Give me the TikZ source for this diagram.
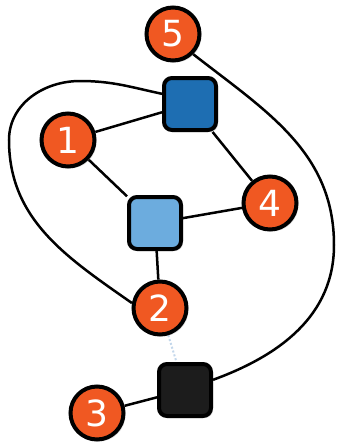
\documentclass[tikz,border=0pt]{standalone}
\usepackage{fontspec}
\setmainfont{DejaVu Sans}
\usetikzlibrary{shadows,backgrounds}
\definecolor{orng}{RGB}{240,88,34}
\definecolor{dblue}{RGB}{30,110,178}
\definecolor{lblue}{RGB}{108,172,222}
\definecolor{blk}{RGB}{28,28,28}
\definecolor{faint}{RGB}{195,215,235}
\tikzset{
  num/.style={circle, draw=black, line width=4pt, fill=orng, minimum size=53pt, inner sep=0pt,
    text=white, font=\fontsize{36}{42}\selectfont,
    drop shadow={opacity=0.25, shadow xshift=2pt, shadow yshift=-2pt}},
  sq/.style={rectangle, rounded corners=8pt, draw=black, line width=4pt, minimum size=52pt, inner sep=0pt,
    drop shadow={opacity=0.25, shadow xshift=2pt, shadow yshift=-2pt}},
  edge/.style={line width=2.5pt, black},
}
\begin{document}
\begin{tikzpicture}[x=1pt,y=-1pt]
\useasboundingbox (0,0) rectangle (337,445);
\coordinate (T) at (80,81);
\coordinate (L) at (9,140);
\coordinate (R) at (334,245);
\node[num] (n5) at (173,34) {5};
\node[sq, fill=dblue] (db) at (190,104) {};
\node[num] (n1) at (68,140) {1};
\node[num] (n4) at (270,203) {4};
\node[sq, fill=lblue] (lb) at (155,223) {};
\node[num] (n2) at (160,308) {2};
\node[sq, fill=blk] (bk) at (185,390) {};
\node[num] (n3) at (97,413) {3};
\begin{scope}[on background layer]
\draw[edge] (n1) -- (db);
\draw[edge] (n1) -- (lb);
\draw[edge] (db) -- (n4);
\draw[edge] (lb) -- (n4);
\draw[edge] (lb) -- (n2);
\draw[edge] (n3) -- (bk);
\draw[line width=2pt, faint, dotted] (n2) -- (bk);
\draw[edge] (db.160) to[out=168,in=0] (T) to[out=180,in=90] (L) to[out=-90,in=145] (n2.170);
\draw[edge] (n5.-45) to[out=-38,in=90] (R) to[out=-90,in=20] (bk.20);
\end{scope}
\end{tikzpicture}
\end{document}
